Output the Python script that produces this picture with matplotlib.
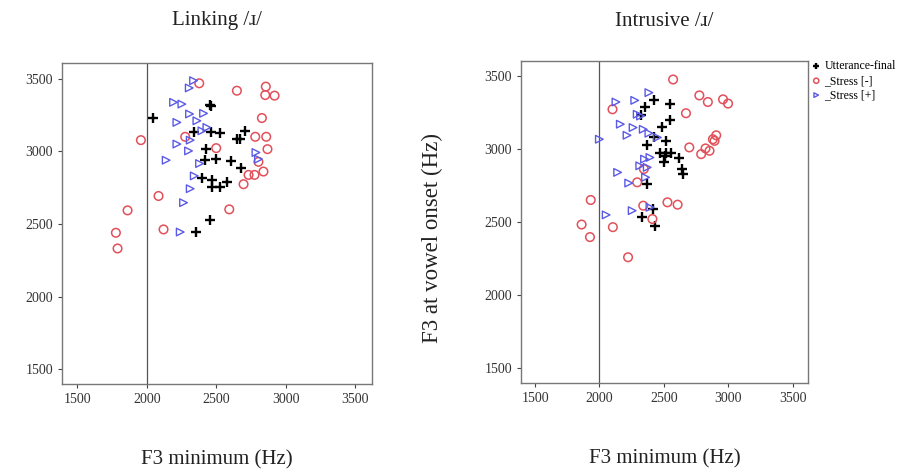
import numpy as np
import matplotlib.pyplot as plt

plt.rcParams['font.family'] = ['Liberation Serif', 'DejaVu Serif']

# F3 minimum (x) vs F3 at vowel onset (y), Hz
link_final_x = [2042, 2457, 2460, 2337, 2464, 2529, 2704, 2649, 2670, 2426, 2421,
                2498, 2608, 2678, 2397, 2469, 2469, 2529, 2581, 2457, 2354]
link_final_y = [3229, 3321, 3310, 3130, 3134, 3123, 3141, 3084, 3084, 3015, 2941,
                2946, 2934, 2884, 2819, 2803, 2757, 2757, 2790, 2528, 2445]
link_unstr_x = [2378, 2649, 2857, 2853, 2920, 2829, 1958, 2277, 2500, 2781, 2860,
                2869, 2804, 2840, 2776, 2733, 2697, 2085, 2594, 1862, 2121, 1778, 1790]
link_unstr_y = [3468, 3417, 3445, 3387, 3383, 3229, 3077, 3100, 3022, 3100, 3100,
                3015, 2928, 2861, 2838, 2838, 2774, 2693, 2601, 2594, 2463, 2440, 2332]
link_str_x = [2306, 2337, 2193, 2253, 2308, 2409, 2217, 2361, 2433, 2397, 2313,
              2217, 2301, 2140, 2380, 2342, 2313, 2265, 2241, 2786, 2804]
link_str_y = [3436, 3486, 3337, 3325, 3257, 3261, 3199, 3210, 3164, 3141, 3077,
              3050, 3003, 2939, 2916, 2831, 2743, 2647, 2445, 2992, 2946]

intr_final_x = [2423, 2549, 2353, 2319, 2549, 2484, 2423, 2515, 2366, 2468, 2515,
                2554, 2507, 2502, 2615, 2638, 2651, 2371, 2418, 2327, 2431]
intr_final_y = [3334, 3312, 3289, 3232, 3198, 3152, 3080, 3057, 3027, 2973, 2977,
                2977, 2950, 2913, 2937, 2864, 2829, 2761, 2591, 2534, 2477]
intr_unstr_x = [2572, 2776, 2842, 2960, 2999, 2672, 2101, 2698, 2790, 2855, 2824,
                2907, 2881, 2894, 2293, 2345, 2528, 2607, 1932, 2340, 2411, 1861,
                2104, 1926, 2222]
intr_unstr_y = [3477, 3368, 3323, 3341, 3312, 3246, 3273, 3012, 2966, 2989, 3005,
                3095, 3068, 3057, 2773, 2864, 2636, 2620, 2652, 2613, 2522, 2484,
                2466, 2398, 2260]
intr_str_x = [2384, 2274, 2128, 2293, 2319, 2162, 2261, 2214, 2340, 2384, 2450,
              1999, 2350, 2392, 2313, 2371, 2141, 2358, 2227, 2254, 2392, 2052]
intr_str_y = [3387, 3334, 3323, 3239, 3227, 3171, 3148, 3095, 3136, 3109, 3080,
              3068, 2932, 2943, 2886, 2875, 2841, 2807, 2768, 2579, 2602, 2550]

ticks = [1500, 2000, 2500, 3000, 3500]
group_labels = ['Utterance-final', '_Stress [-]', '_Stress [+]']
red = '#e2505a'
blue = '#5a5ae6'

fig = plt.figure(figsize=(9.14, 4.75), dpi=100)
ax1 = fig.add_axes([0.0678, 0.1916, 0.339, 0.675])
ax2 = fig.add_axes([0.570, 0.194, 0.314, 0.678])


def panel(ax, fx, fy, ux, uy, sx, sy, title):
    ax.scatter(fx, fy, marker='+', s=45, color='black', linewidths=1.7, zorder=3)
    ax.scatter(ux, uy, marker='o', s=38, facecolors='none', edgecolors=red,
               linewidths=1.1, zorder=3)
    ax.scatter(sx, sy, marker='>', s=30, facecolors='none', edgecolors=blue,
               linewidths=1.0, zorder=3)
    ax.axvline(2000, color='#555555', lw=0.9, zorder=1)
    ax.set_xlim(1390, 3620)
    ax.set_ylim(1400, 3605)
    ax.set_xticks(ticks)
    ax.set_yticks(ticks)
    ax.tick_params(labelsize=10, length=3, width=0.8, colors='#444444',
                   labelcolor='#333333')
    for sp in ax.spines.values():
        sp.set_color('#777777')
        sp.set_linewidth(1.0)
    # titles sit at the same height above both panels
    pos = ax.get_position()
    fig.text((pos.x0 + pos.x1) / 2, 1 - 21 / 475, title, fontsize=15,
             ha='center', va='center', color='#222222')
    ax.set_xlabel('F3 minimum (Hz)', fontsize=15, labelpad=32, color='#222222')


panel(ax1, link_final_x, link_final_y, link_unstr_x, link_unstr_y,
      link_str_x, link_str_y, 'Linking /ɹ/')
panel(ax2, intr_final_x, intr_final_y, intr_unstr_x, intr_unstr_y,
      intr_str_x, intr_str_y, 'Intrusive /ɹ/')
ax2.set_ylabel('F3 at vowel onset (Hz)', fontsize=16.5, color='#222222')
ax2.yaxis.set_label_coords(-0.27, 0.45)

handles = ax2.collections[:3]
leg = ax2.legend(handles, ['a', 'b', 'c'], loc='upper left',
                 bbox_to_anchor=(1.0, 1.012), frameon=False, fontsize=8.5,
                 handlelength=0.8, handletextpad=0.3, labelspacing=0.2,
                 borderaxespad=0.0, borderpad=0.3, markerscale=0.6)
for txt, lab in zip(leg.get_texts(), group_labels):
    txt.set_text(lab)

fig.savefig('out.png', dpi=100)
